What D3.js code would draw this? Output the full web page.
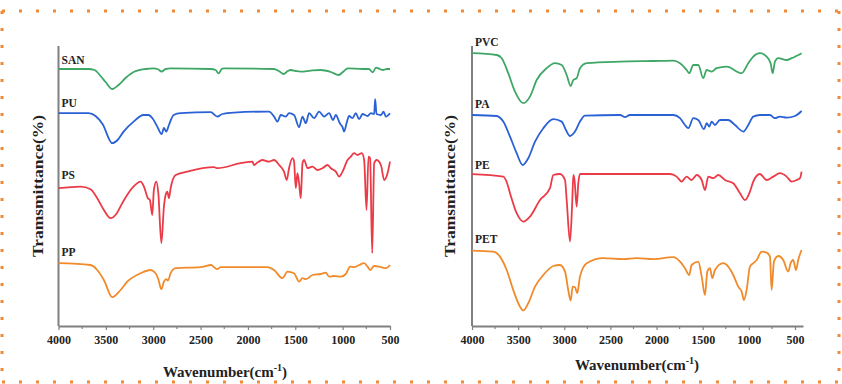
<!DOCTYPE html>
<html>
<head>
<meta charset="utf-8">
<script src="https://cdn.jsdelivr.net/npm/d3@7"></script>
<style>
  body { margin: 0; background: #fff; }
  svg { display: block; }
  text { font-family: "Liberation Serif", "Times New Roman", serif; font-weight: bold; fill: #222; }
</style>
</head>
<body>
<div id="chart"></div>
<script>
// FTIR spectra, [wavenumber (cm-1), transmittance (a.u., offset per trace)]
const san = [[4000,128.5],[3683,128.5],[3619,128],[3556,125],[3503,122],[3432,118.5],[3366,120.5],[3292,124],[3207,127],[3080,128.5],[2996,128.8],[2954,128.5],[2911,127.2],[2869,128.5],[2816,128.8],[2393,128.5],[2341,128],[2309,126.3],[2277,128.5],[2256,128.8],[1727,128.5],[1674,127.5],[1622,126],[1579,127.5],[1548,128],[1495,127.5],[1442,127.2],[1336,127.7],[1231,128],[1125,127],[1040,125.5],[998,127],[945,128.8],[787,128.5],[723,128.5],[681,126.8],[649,129.2],[607,128.5],[575,128],[533,128.5],[500,128.5]];
const pu = [[4000,106.4],[3683,106.4],[3609,105],[3535,101],[3432,91.4],[3376,93],[3313,97.2],[3207,102.2],[3102,105.5],[3049,105.5],[3010,104],[2957,99.7],[2911,95.9],[2887,99],[2862,97.2],[2834,100.5],[2784,105.5],[2710,106.4],[2393,106.9],[2323,104.7],[2270,106],[2150,106.7],[1794,107.2],[1777,107.2],[1724,104.7],[1688,102.2],[1653,105.5],[1601,104.7],[1566,106.4],[1513,105.5],[1460,99.4],[1424,104.7],[1389,101.4],[1354,106.4],[1301,103.9],[1249,107.2],[1196,104.7],[1143,106.4],[1101,103],[1072,105.5],[1030,101.4],[1001,99.4],[984,97.2],[959,101.4],[931,105],[896,103.9],[861,106.4],[826,103.4],[790,106],[737,105],[702,106.4],[667,106],[657,113.4],[642,106],[596,105.5],[568,107.2],[544,104.7],[500,106.4]];
const ps = [[4000,68.9],[3767,69.7],[3662,68.4],[3591,63.9],[3521,58],[3450,53.9],[3398,55.5],[3327,61.4],[3239,68],[3133,72.2],[3098,69.7],[3056,63.9],[3035,63],[3010,55.5],[2993,68],[2967,72.2],[2946,66.4],[2914,41.4],[2887,59.7],[2869,65.5],[2851,67.2],[2834,63.9],[2816,68.9],[2763,75.5],[2640,77.2],[2358,79.4],[2323,78.9],[2076,81.4],[1953,82.2],[1936,80.5],[1900,81.7],[1847,83],[1777,82.2],[1724,83],[1671,80.5],[1619,77.2],[1590,73],[1566,78.9],[1530,83.9],[1513,82.2],[1495,68.9],[1477,76.4],[1460,71.4],[1442,63.9],[1424,81.4],[1407,83],[1371,78.9],[1318,79.7],[1265,78],[1213,78.9],[1160,80.5],[1125,78.9],[1072,77.2],[1037,74.7],[1001,77.2],[948,83],[914,84.7],[879,86.4],[843,85.5],[797,86.4],[773,83],[748,58],[727,84.7],[710,83.9],[688,36.4],[667,81.4],[642,83],[596,80.5],[561,73],[526,76.4],[500,82.2]];
const pp = [[4000,31.4],[3662,30.5],[3591,28],[3521,23],[3432,14.4],[3345,18],[3274,22.2],[3133,26.4],[3028,28],[2975,26.4],[2946,23.4],[2914,18.4],[2887,22.2],[2862,23.4],[2845,22.7],[2816,26.4],[2763,28.9],[2499,29.4],[2386,30.5],[2358,29.4],[2323,28.4],[2288,29.4],[1794,29.4],[1724,28],[1636,23.9],[1583,27.2],[1513,26.4],[1460,22.2],[1424,23.9],[1389,23.4],[1318,25.5],[1231,26],[1178,26.7],[1143,24.7],[1090,25],[1019,24.7],[966,26],[921,29.7],[879,29.4],[826,30.5],[773,31.4],[737,29.7],[709,28],[667,30],[596,29.4],[544,28.9],[500,30.5]];

const pvc = [[4000,136.4],[3732,135.5],[3678,133.9],[3607,126.4],[3534,117.2],[3444,111.4],[3372,114.7],[3299,123],[3191,128.9],[3101,131.4],[3028,130.5],[2974,125.5],[2931,120],[2902,123],[2866,123.9],[2830,128.9],[2757,131.4],[2396,132.2],[2036,132.5],[1819,132.7],[1746,131.4],[1674,128],[1646,126.4],[1602,130.5],[1548,130.5],[1494,123.9],[1457,128],[1403,127.2],[1349,128.9],[1240,129.7],[1078,126.4],[1006,131.4],[952,134.7],[880,136.4],[807,134.7],[764,131.4],[742,126.4],[717,132.2],[681,133.9],[590,133],[536,133.9],[428,136.4]];
const pa = [[4000,105.5],[3732,105],[3661,102.2],[3588,94.7],[3516,86.4],[3451,80.5],[3390,83.9],[3317,92.2],[3227,98.9],[3119,103.4],[3028,102.2],[2982,98],[2938,95],[2884,97.2],[2830,102.2],[2776,105.2],[2396,105.5],[2342,104.4],[2288,105.5],[1819,105.5],[1746,103.9],[1692,100.5],[1656,98.9],[1602,103.9],[1548,103],[1486,98.4],[1457,101.4],[1429,99.7],[1403,102.2],[1367,100.5],[1313,103],[1223,103],[1150,100.5],[1060,97.2],[1006,100.5],[952,104.7],[880,105.5],[771,105.5],[717,103.9],[663,104.7],[590,104.2],[500,105],[428,107.5]];
const pe = [[4000,75.9],[3661,74.7],[3624,72],[3588,66.4],[3516,56.4],[3444,52.2],[3372,54.7],[3263,63],[3155,68.9],[3119,75.5],[3047,76],[2992,73],[2974,63],[2938,42.2],[2913,63],[2902,75.5],[2889,73],[2866,59.7],[2848,71.4],[2830,76],[2396,76],[1855,76],[1782,74.7],[1728,72.2],[1674,74.7],[1620,73],[1565,75.5],[1511,73],[1475,68],[1440,74.7],[1386,73.9],[1331,75.5],[1259,73],[1169,71.4],[1096,66.4],[1042,63],[988,67.2],[952,72.2],[880,76],[807,73],[735,74.7],[663,76.4],[590,74.7],[536,72.2],[482,73],[446,73.9],[428,77.2]];
const pet = [[4000,37.7],[3769,37.2],[3697,34.7],[3624,28],[3553,18],[3480,9.7],[3444,7.7],[3390,11.4],[3317,19.7],[3227,25.5],[3119,30],[3047,30.5],[2992,27.2],[2957,18],[2931,12.7],[2909,19.7],[2884,19.4],[2859,16.4],[2830,24.7],[2757,31.4],[2577,33.9],[2361,33.4],[2215,33.9],[2036,33.4],[1819,34.4],[1746,32.2],[1692,28.9],[1646,25.5],[1620,30.5],[1548,32.2],[1511,24.7],[1475,15.5],[1450,27.2],[1421,28.9],[1396,23.9],[1367,28],[1277,31.4],[1223,29.7],[1169,25.5],[1115,19.7],[1078,17.2],[1053,13],[1024,18],[988,29.7],[952,31.4],[915,33],[861,37.2],[807,36.7],[771,34.7],[753,18],[728,32.2],[681,35],[627,33],[573,27.2],[547,31.4],[519,33],[489,28],[465,33],[428,38]];

const tickValues = [4000, 3500, 3000, 2500, 2000, 1500, 1000, 500];
const minorTicks = [3750, 3250, 2750, 2250, 1750, 1250, 750];

const colors = { green: "#3ea766", blue: "#2a61d4", red: "#ea3b47", orange: "#f18a2b" };

const leftSeries = [
  { name: "SAN", data: san, color: colors.green, label: 64 },
  { name: "PU", data: pu, color: colors.blue, label: 107 },
  { name: "PS", data: ps, color: colors.red, label: 179 },
  { name: "PP", data: pp, color: colors.orange, label: 256 }
];
const rightSeries = [
  { name: "PVC", data: pvc, color: colors.green, label: 46 },
  { name: "PA", data: pa, color: colors.blue, label: 108 },
  { name: "PE", data: pe, color: colors.red, label: 169 },
  { name: "PET", data: pet, color: colors.orange, label: 243 }
];

const W = 842, H = 384;
const svg = d3.select("#chart").append("svg")
  .attr("width", W)
  .attr("height", H);

svg.append("rect").attr("width", W).attr("height", H).attr("fill", "#fff");

// dotted orange frame
const frame = [[2, 11, 840, 11], [2, 382, 840, 382], [2, 11, 2, 382], [839, 11, 839, 382]];
svg.selectAll("line.frame")
  .data(frame)
  .enter()
  .append("line")
  .attr("class", "frame")
  .attr("x1", d => d[0]).attr("y1", d => d[1])
  .attr("x2", d => d[2]).attr("y2", d => d[3])
  .attr("stroke", "#f08a36")
  .attr("stroke-width", 3)
  .attr("stroke-dasharray", "3,14");

const plotTop = 46, plotBottom = 326;

function drawPanel(series, x0, x1, xEnd, titleX, titleY, yTitleX) {
  const xScale = d3.scaleLinear().domain([4000, xEnd]).range([x0, x1]);
  const yScale = d3.scaleLinear().domain([0, 140]).range([plotBottom, plotTop]);

  const g = svg.append("g");

  // minor ticks
  g.selectAll("line.minor")
    .data(minorTicks)
    .enter()
    .append("line")
    .attr("x1", d => xScale(d)).attr("x2", d => xScale(d))
    .attr("y1", plotBottom).attr("y2", plotBottom + 3)
    .attr("stroke", "#808080").attr("stroke-width", 1.2);

  const xAxis = g.append("g")
    .attr("transform", `translate(0, ${plotBottom})`)
    .call(d3.axisBottom(xScale).tickValues(tickValues).tickFormat(d3.format("d"))
      .tickSize(4).tickSizeOuter(0).tickPadding(5));
  xAxis.select(".domain").attr("stroke", "#808080").attr("stroke-width", 2);
  xAxis.selectAll(".tick line").attr("stroke", "#808080").attr("stroke-width", 1.2);
  xAxis.selectAll(".tick text")
    .attr("font-size", 12)
    .attr("font-family", "Liberation Serif, serif")
    .attr("font-weight", "bold")
    .attr("fill", "#222");

  // y axis line only
  g.append("line")
    .attr("x1", x0).attr("x2", x0)
    .attr("y1", plotTop).attr("y2", plotBottom)
    .attr("stroke", "#808080").attr("stroke-width", 2);

  const line = d3.line()
    .x(d => xScale(d[0]))
    .y(d => yScale(d[1]))
    .curve(d3.curveMonotoneX);

  series.forEach(s => {
    g.append("path")
      .datum(s.data)
      .attr("fill", "none")
      .attr("stroke", s.color)
      .attr("stroke-width", 1.8)
      .attr("stroke-linejoin", "round")
      .attr("d", line);
    g.append("text")
      .attr("x", x0 + 3)
      .attr("y", s.label)
      .attr("font-size", 11.5)
      .text(s.name);
  });

  const xt = g.append("text")
    .attr("x", titleX)
    .attr("y", titleY)
    .attr("text-anchor", "middle")
    .attr("font-size", 15);
  xt.append("tspan").text("Wavenumber(cm");
  xt.append("tspan").attr("font-size", 10).attr("dy", -6).text("-1");
  xt.append("tspan").attr("dy", 6).text(")");

  g.append("text")
    .attr("transform", `translate(${yTitleX}, 186) rotate(-90)`)
    .attr("text-anchor", "middle")
    .attr("font-size", 15.5)
    .attr("textLength", 142)
    .attr("lengthAdjust", "spacingAndGlyphs")
    .text("Tramsmittance(%)");
}

drawPanel(leftSeries, 58.5, 390, 500, 225, 377, 43);
drawPanel(rightSeries, 472, 803, 413, 637, 370, 455);
</script>
</body>
</html>
